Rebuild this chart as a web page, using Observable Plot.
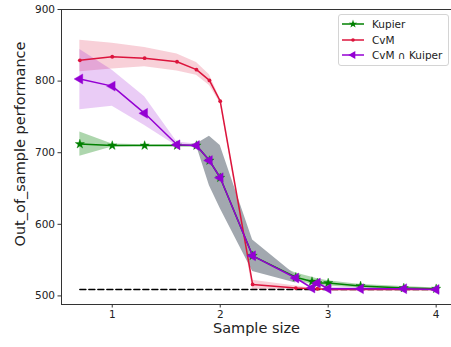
<!DOCTYPE html>
<html>
<head>
<meta charset="utf-8">
<script src="https://cdn.jsdelivr.net/npm/d3@7"></script>
<script src="https://cdn.jsdelivr.net/npm/@observablehq/plot@0.6"></script>
<style>
  html, body { margin: 0; padding: 0; background: #fff; overflow: hidden; }
  #wrap { position: relative; width: 451px; height: 347px; font-family: "DejaVu Sans", sans-serif; }
  #legend { position: absolute; left: 338px; top: 14px; width: 109px; height: 50px; border: 1px solid #d4d4d4; border-radius: 3px; background: rgba(255,255,255,0.8); font-size: 10.5px; color: #222; }
  #legend .row { position: absolute; left: 2px; height: 14px; display: flex; align-items: center; }
  #legend svg { margin-right: 7px; }
</style>
</head>
<body>
<div id="wrap"></div>
<script>
// log10(sample size)
const sampleSize = [0.7, 1.0, 1.3, 1.6, 1.78, 1.9, 2.0, 2.3, 2.7, 2.85, 2.9, 3.0, 3.3, 3.7, 4.0];

const kupier   = [712, 710, 710, 710, 710, 689, 665, 556, 526, 520, 518, 518, 514, 511, 510];
const kupierLo = [695, 708, 709, 709, 709, 687, 663, 554, 522, 516, 515, 514, 511, 509, 509];
const kupierHi = [729, 712, 711, 711, 711, 691, 667, 558, 532, 526, 524, 521, 516, 513, 511];

const cvm   = [829, 834, 832, 827, 816, 801, 772, 516, 511, 510, 510, 509, 509, 509, 509];
const cvmLo = [813, 817, 820, 814, 808, 794, 769, 509, 509, 509, 509, 508, 508, 508, 508];
const cvmHi = [857, 853, 847, 838, 826, 809, 775, 522, 514, 511, 511, 510, 510, 510, 510];

const both   = [803, 793, 755, 711, 710, 689, 665, 556, 525, 511, 518, 510, 510, 510, 509];
const bothLo = [760, 765, 738, 709, 708, 687, 663, 554, 523, 509, 516, 508, 508, 508, 508];
const bothHi = [844, 815, 778, 715, 712, 691, 667, 558, 527, 513, 520, 512, 512, 512, 510];

const overlapX  = [1.78, 1.9, 2.0, 2.3, 2.7];
const overlapLo = [710, 654, 622, 534, 518];
const overlapHi = [712, 723, 710, 578, 529];

const baseline = 509;
const xTicks = [1, 2, 3, 4];
const yTicks = [500, 600, 700, 800, 900];
const seriesNames = ["Kupier", "CvM", "CvM \u2229 Kuiper"];
const xLabel = "Sample size";
const yLabel = "Out_of_sample performance";

const colors = {green: "#008000", red: "#dc143c", purple: "#9400d3"};

const rows = (ys, lo, hi) => sampleSize.map((x, i) => ({x, y: ys[i], lo: lo[i], hi: hi[i]}));
const K = rows(kupier, kupierLo, kupierHi);
const C = rows(cvm, cvmLo, cvmHi);
const B = rows(both, bothLo, bothHi);
const O = overlapX.map((x, i) => ({x, lo: overlapLo[i], hi: overlapHi[i]}));
const base = [{x: sampleSize[0], y: baseline}, {x: sampleSize[sampleSize.length - 1], y: baseline}];

const chart = Plot.plot({
  width: 451,
  height: 347,
  marginLeft: 61,
  marginRight: 0,
  marginTop: 9,
  marginBottom: 43,
  style: {fontFamily: "DejaVu Sans, sans-serif", fontSize: "10.5px", color: "#222", background: "#fff"},
  x: {domain: [0.53, 4.142]},
  y: {domain: [488, 900]},
  marks: [
    Plot.areaY(K, {x: "x", y1: "lo", y2: "hi", fill: colors.green, fillOpacity: 0.32}),
    Plot.areaY(C, {x: "x", y1: "lo", y2: "hi", fill: colors.red, fillOpacity: 0.2}),
    Plot.areaY(B, {x: "x", y1: "lo", y2: "hi", fill: colors.purple, fillOpacity: 0.2}),
    Plot.areaY(O, {x: "x", y1: "lo", y2: "hi", fill: "#a2a8af"}),
    Plot.lineY(base, {x: "x", y: "y", stroke: "#000", strokeWidth: 1.5, strokeDasharray: "6,3"}),
    Plot.lineY(K, {x: "x", y: "y", stroke: colors.green, strokeWidth: 1.5}),
    Plot.dot(K, {x: "x", y: "y", symbol: "star", r: 2.9, fill: colors.green, stroke: colors.green, strokeWidth: 0.4}),
    Plot.lineY(C, {x: "x", y: "y", stroke: colors.red, strokeWidth: 1.5}),
    Plot.dot(C, {x: "x", y: "y", r: 1.9, fill: colors.red}),
    Plot.lineY(B, {x: "x", y: "y", stroke: colors.purple, strokeWidth: 1.5}),
    Plot.dot(B, {x: "x", y: "y", symbol: "triangle", r: 3.7, rotate: -90, fill: colors.purple, stroke: colors.purple, strokeWidth: 0.4}),
    Plot.frame({stroke: "#333", strokeWidth: 1}),
    Plot.axisX({ticks: xTicks, tickFormat: "d", tickSize: 3.5, tickPadding: 3, label: null, stroke: "#333"}),
    Plot.axisY({ticks: yTicks, tickFormat: "d", tickSize: 3.5, tickPadding: 3, label: null, stroke: "#333"}),
    Plot.text([xLabel], {frameAnchor: "bottom", dy: 28, fontSize: 14.5, fill: "#222"}),
    Plot.text([yLabel], {frameAnchor: "left", textAnchor: "middle", dx: -41, dy: -13, rotate: -90, fontSize: 14.5, fill: "#222"})
  ]
});
document.getElementById("wrap").appendChild(chart);

// Legend
const legend = document.createElement("div");
legend.id = "legend";
const sym = [
  `<path d="${d3.symbol(d3.symbolStar, 22)()}" transform="translate(12,5)" fill="${colors.green}"/>`,
  `<circle cx="12" cy="5" r="1.8" fill="${colors.red}"/>`,
  `<path d="${d3.symbol(d3.symbolTriangle, 28)()}" transform="translate(12,5) rotate(-90)" fill="${colors.purple}"/>`
];
const cols = [colors.green, colors.red, colors.purple];
seriesNames.forEach((name, i) => {
  const r = document.createElement("div");
  r.className = "row";
  r.style.top = (2 + i * 15.5) + "px";
  r.innerHTML = `<svg width="24" height="10"><line x1="1" x2="23" y1="5" y2="5" stroke="${cols[i]}" stroke-width="1.5"/>${sym[i]}</svg><span>${name}</span>`;
  legend.appendChild(r);
});
document.getElementById("wrap").appendChild(legend);
</script>
</body>
</html>
